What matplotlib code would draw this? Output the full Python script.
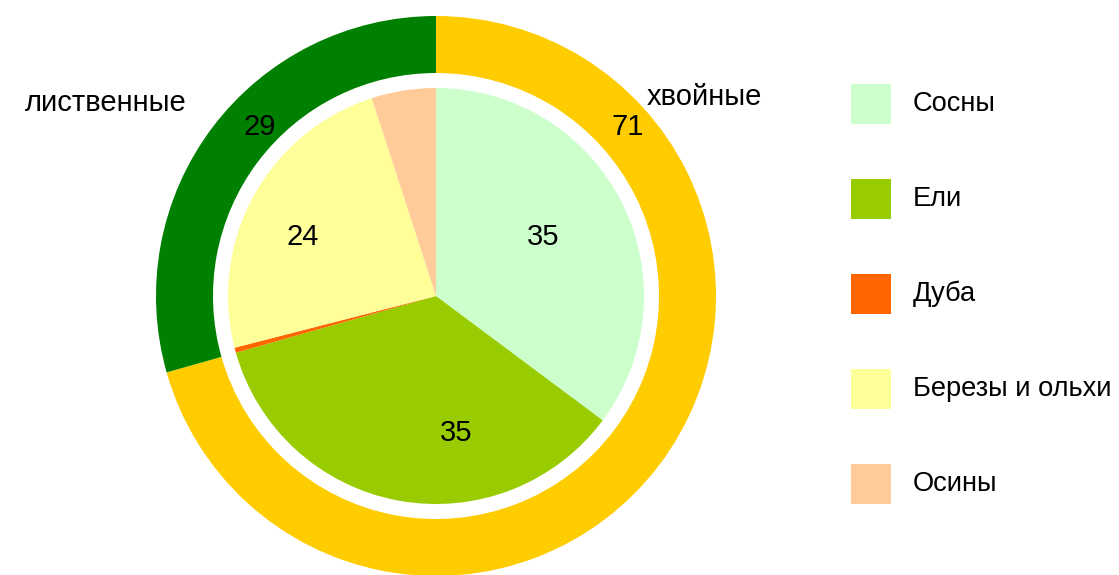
import matplotlib
matplotlib.use("Agg")
import matplotlib.pyplot as plt
from matplotlib.patches import Rectangle

# ---- data ----
species = ["Сосны", "Ели", "Дуба", "Березы и ольхи", "Осины"]
species_values = [35.2, 35.4, 0.4, 24.0, 5.0]
species_labels = ["35", "35", "", "24", ""]
species_colors = ["#CCFFCC", "#99CC00", "#FF6600", "#FFFF99", "#FFCC99"]

groups = ["хвойные", "лиственные"]
group_values = [70.6, 29.4]
group_labels = ["71", "29"]
group_colors = ["#FFCC00", "#008000"]

plt.rcParams['font.family'] = ['Liberation Sans', 'DejaVu Sans']

W, H = 1119, 575
fig = plt.figure(figsize=(W / 100, H / 100), dpi=100)
ax = fig.add_axes([0, 0, 1, 1])

cx, cy = 436, H - 296
R_out, ring_w, R_in = 280, 57, 208

ax.pie(group_values, colors=group_colors, startangle=90, counterclock=False,
       radius=R_out, center=(cx, cy), wedgeprops=dict(width=ring_w, linewidth=0),
       frame=True)
ax.pie(species_values, colors=species_colors, startangle=90, counterclock=False,
       radius=R_in, center=(cx, cy), wedgeprops=dict(linewidth=0), frame=True)
ax.set_xlim(0, W)
ax.set_ylim(0, H)
ax.set_aspect('equal')
ax.axis('off')

# label layout (pixel positions in figure)
inner_label_pos = [(543, 237), (456, 433), None, (303, 237), None]
ring_label_pos = [(628, 127), (260, 127)]
group_name_pos = [(704, 97), (106, 103)]

fs_chart = 21
for lab, pos in zip(species_labels, inner_label_pos):
    if pos and lab:
        ax.text(pos[0], H - pos[1], lab, ha='center', va='center', fontsize=fs_chart)
for lab, pos in zip(group_labels, ring_label_pos):
    ax.text(pos[0], H - pos[1], lab, ha='center', va='center', fontsize=fs_chart)
for name, pos in zip(groups, group_name_pos):
    ax.text(pos[0], H - pos[1], name, ha='center', va='center', fontsize=fs_chart)

# legend
leg_x, leg_y0, leg_dy, box = 851, 104, 95, 40
for i, (name, col) in enumerate(zip(species, species_colors)):
    yc = H - (leg_y0 + i * leg_dy)
    ax.add_patch(Rectangle((leg_x, yc - box / 2), box, box, facecolor=col, edgecolor='none'))
    ax.text(913, yc, name, ha='left', va='center', fontsize=19.6)

fig.savefig("out.png", dpi=100)
